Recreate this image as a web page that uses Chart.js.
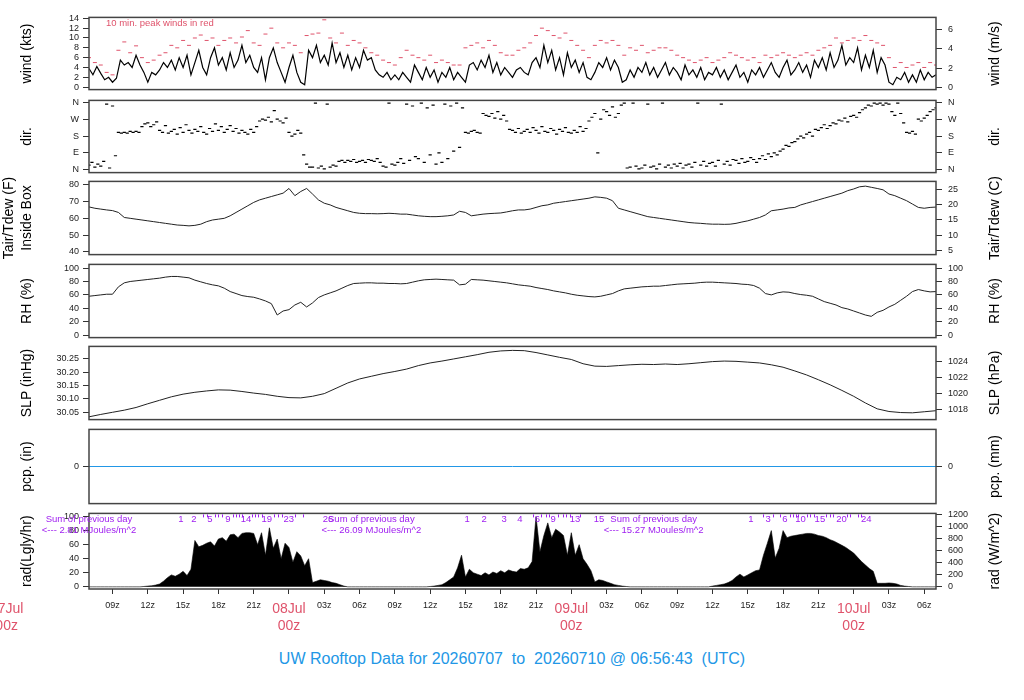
<!DOCTYPE html>
<html>
<head>
<meta charset="utf-8">
<title>UW Rooftop Data</title>
<script src="https://cdn.jsdelivr.net/npm/chart.js@4.4.1/dist/chart.umd.min.js"></script>
<style>
  body { margin: 0; background: #fff; width: 1024px; height: 700px; overflow: hidden; position: relative;
         font-family: "Liberation Sans", Arial, Helvetica, sans-serif; }
  canvas { position: absolute; left: 0; }
  #title { position: absolute; left: 0; top: 650px; width: 1024px; text-align: center; white-space: pre;
           color: #2297E6; font-size: 16px; line-height: 18px; }
</style>
</head>
<body>
<canvas id="cWind"></canvas>
<canvas id="cDir"></canvas>
<canvas id="cTemp"></canvas>
<canvas id="cRh"></canvas>
<canvas id="cSlp"></canvas>
<canvas id="cPcp"></canvas>
<canvas id="cRad"></canvas>
<div id="title">UW Rooftop Data for 20260707  to  20260710 @ 06:56:43  (UTC)</div>
<script>
// time axis: hours after 07Jul 00z
const dayLabels = ['07Jul', '08Jul', '09Jul', '10Jul'];
const xTickHours = [9, 12, 15, 18, 21, 24, 27, 30, 33, 36, 39, 42, 45, 48, 51, 54, 57, 60, 63, 66, 69, 72, 75, 78];

// wind speed (kts), every 20 min from 07z
const windKts = [
  3.8, 2.5, 4.2,  2.8, 1.5, 2.0,  1.0, 1.8, 5.5,  4.5, 5.0, 4.0,  6.5, 4.5, 3.0,  1.0, 3.0, 2.5,   // 07-12z
  3.5, 5.0, 4.0,  5.5, 3.5, 6.0,  4.0, 6.5, 2.5,  5.0, 7.5, 4.0,  2.5, 6.0, 8.0,  4.5, 6.0, 3.5,   // 13-18z
  7.0, 4.0, 5.5,  8.5, 5.0, 6.5,  4.0, 3.0, 6.0,  1.5, 6.0, 8.0,  5.0, 3.0, 1.0,  4.0, 6.5, 3.0,   // 19-00z
  1.0, 0.5, 7.5,  6.0, 8.5, 5.0,  6.5, 4.5, 9.0,  5.0, 7.0, 4.0,  6.5, 3.5, 6.0,  4.0, 7.5, 5.5,   // 01-06z
  6.0, 3.5, 2.5,  2.0, 3.0, 1.5,  2.5, 1.5, 3.0,  2.0, 1.0, 4.5,  3.0, 1.5, 4.0,  2.0, 3.5, 1.0,   // 07-12z
  3.0, 2.0, 4.0,  1.5, 3.0, 2.0,  1.0, 4.5, 5.0,  3.5, 5.5, 4.0,  6.5, 3.0, 5.0,  2.5, 4.0, 3.0,   // 13-18z
  2.0, 3.5, 4.0,  3.0, 2.5, 5.0,  6.0, 4.0, 8.5,  5.0, 7.5, 3.5,  6.0, 2.5, 7.0,  4.0, 5.5, 3.0,   // 19-00z
  5.0, 2.0, 1.5,  3.0, 5.0, 4.0,  6.0, 3.5, 5.5,  4.0, 1.0, 1.5,  3.5, 2.0, 4.0,  3.0, 5.0, 2.5,   // 01-06z
  4.0, 2.0, 3.5,  5.0, 2.5, 4.0,  3.0, 1.5, 4.5,  2.5, 3.5, 2.0,  4.0, 1.5, 3.0,  2.5, 4.0, 2.0,   // 07-12z
  3.5, 1.5, 3.0,  4.5, 2.0, 3.0,  1.0, 3.5, 2.5,  4.0, 2.0, 3.5,  5.0, 3.0, 2.0,  4.0, 5.5, 2.5,   // 13-18z
  3.5, 5.0, 3.0,  4.5, 2.0, 5.5,  4.0, 6.0, 3.5,  7.0, 4.0, 5.5,  8.5, 4.5, 6.0,  5.0, 8.0, 3.5,   // 19-00z
  6.5, 4.0, 7.5,  3.0, 6.0, 4.5,  1.0, 0.5, 2.0,  1.5, 3.0, 1.0,  2.5, 1.0, 3.5,  1.5, 3.0, 2.0,   // 01-06z
  2.5
];

// 10 min. peak winds (kts), every 30 min from 07z
const windPeakKts = [
  6.0, 5.0,  4.5, 3.0,  2.5, 7.5,  9.2, 7.0,  8.4, 6.0,  5.0, 5.5,
  6.5, 7.0,  8.5, 8.0,  9.5, 8.5,  10.0, 10.6,  9.5, 10.0,  8.5, 9.5,
  10.0, 9.0,  10.2, 11.5,  9.0, 8.5,  10.8, 12.0,  9.0, 8.0,  9.0, 8.5,
  7.0, 10.5,  10.8, 11.0,  13.7, 10.0,  9.0, 11.0,  8.5, 9.5,  9.0, 8.0,
  7.0, 6.5,  5.5, 5.0,  4.5, 6.0,  7.5, 6.5,  6.0, 5.5,  6.5, 5.0,
  5.5, 5.0,  4.5, 4.5,  8.0, 8.5,  9.0, 8.0,  9.5, 8.5,  7.0, 6.5,
  6.5, 7.5,  8.0, 9.0,  10.5, 12.0,  11.5, 10.5,  10.0, 11.0,  9.5, 8.5,
  7.5, 6.0,  8.5, 9.5,  9.0, 9.5,  8.5, 6.5,  8.0, 7.5,  8.5, 7.0,
  7.5, 8.0,  8.0, 7.5,  6.5, 6.0,  5.5, 5.0,  5.5, 6.0,  5.0, 5.5,
  6.0, 7.0,  6.5, 6.0,  5.5, 6.0,  5.0, 6.5,  6.0, 6.5,  7.0, 6.5,
  6.0, 6.5,  7.0, 6.5,  7.5, 8.0,  8.5, 10.0,  9.0, 9.5,  10.0, 9.5,
  10.5, 9.5,  9.0, 8.5,  6.0, 4.0,  5.0, 4.0,  4.5, 5.0,  4.0, 5.0,
  4.5
];

// wind direction (deg from N), every 15 min from 07z
const windDirDeg = [
  25, 40, 15, 30,    20, 45, 350, 10,   340, 75, 200, 195,  200, 195, 205, 200,  205, 200, 230, 245,  250, 230, 240, 255,
  210, 200, 235, 195, 205, 215, 190, 225, 200, 240, 210, 195, 215, 205, 230, 200, 190, 220, 205, 245, 210, 230, 200, 215,
  235, 205, 220, 195, 210, 200, 190, 215, 200, 230, 260, 270, 265, 280, 255, 315, 270, 260, 250, 275, 200, 180, 190, 210,
  195, 80, 30, 15,   15, 355, 10, 20,   5, 350, 15, 25,    20, 45, 50, 40,     50, 45, 55, 40,     45, 50, 40, 55,
  50, 45, 60, 40,    20, 15, 355, 30,   25, 40, 60, 35,    350, 50, 340, 70,   60, 355, 40, 330,   80, 345, 30, 90,
  40, 350, 60, 340,  100, 355, 120, 330, 200, 195, 205, 210, 200, 195, 300, 290, 285, 300, 275, 310, 270, 290, 260, 215,
  210, 200, 220, 195, 205, 215, 200, 225, 210, 195, 230, 205, 200, 220, 210, 190, 215, 205, 225, 200, 195, 210, 200, 230,
  205, 220, 260, 280, 300, 90, 270, 320, 310, 290, 335, 280, 300, 345, 355, 10, 15, 355, 20, 5,     10, 25, 350, 15,
  20, 5, 30, 355,    15, 25, 10, 30,    20, 35, 10, 25,    30, 15, 40, 355,    25, 45, 20, 35,     40, 20, 50, 350,
  30, 45, 25, 55,    50, 35, 60, 40,    45, 65, 55, 40,    60, 75, 55, 85,     70, 90, 80, 100,    110, 130, 125, 145,
  150, 165, 180, 170, 190, 200, 180, 215, 210, 225, 240, 220, 235, 250, 245, 265, 260, 275, 255, 285, 290, 280, 305, 320,
  330, 345, 340, 355, 350, 355, 345, 355, 350, 310, 290, 355, 300, 250, 200, 195, 205, 190, 270, 260, 275, 290, 310, 320,
  330
];

// air temperature inside box (F), every 30 min from 07z
const tempF = [
  66.8, 66.0, 65.5, 65.0, 64.6, 63.5, 60.5, 60.0, 59.5, 59.0, 58.5, 58.0,   // 07-12z
  57.5, 57.0, 56.5, 56.0, 55.8, 55.5, 55.8, 56.5, 58.0, 59.0, 59.5, 60.0,   // 13-18z
  61.5, 63.5, 65.5, 67.5, 69.5, 71.0, 72.0, 73.0, 74.0, 75.0, 77.8, 73.5,   // 19-00z
  76.0, 77.8, 74.5, 71.0, 69.0, 68.0, 66.5, 65.5, 64.5, 63.5, 63.0, 62.8,   // 01-06z
  62.8, 62.7, 62.8, 63.0, 62.8, 62.5, 62.5, 62.0, 61.5, 61.2, 61.0, 61.0,   // 07-12z
  61.2, 61.5, 62.0, 64.2, 63.5, 61.5, 62.0, 62.5, 62.8, 63.0, 63.2, 63.8,   // 13-18z
  64.5, 65.0, 65.0, 65.5, 66.5, 67.5, 68.0, 69.0, 69.5, 70.0, 70.5, 71.0,   // 19-00z
  71.5, 72.0, 72.8, 72.5, 72.0, 70.5, 66.0, 65.0, 64.0, 63.0, 62.0, 61.0,   // 01-06z
  60.5, 60.0, 59.5, 59.0, 58.5, 58.0, 57.5, 57.2, 57.0, 56.7, 56.5, 56.5,   // 07-12z
  56.4, 56.5, 57.0, 57.8, 58.5, 59.5, 60.5, 62.0, 64.5, 65.0, 65.5, 66.2,   // 13-18z
  66.5, 68.0, 69.0, 70.0, 71.0, 72.0, 73.0, 74.0, 75.0, 76.5, 77.5, 78.8,   // 19-00z
  79.2, 78.5, 77.8, 77.0, 74.5, 73.5, 72.0, 70.5, 68.5, 66.5, 66.0, 66.5,   // 01-06z
  66.7
];

// relative humidity (%), every 30 min from 07z
const rhPct = [
  58, 59, 60, 61, 61, 72, 78, 80, 81, 82, 83, 84,
  85, 86.5, 87.5, 87.5, 86.5, 85.5, 82, 79.5, 77, 75, 73.5, 70,
  65, 62, 59, 57.5, 56.5, 54, 51, 47, 30, 36, 38, 45,
  49, 42, 48, 56, 60, 63, 66, 70, 74, 77, 77.5, 78,
  78, 77.5, 77.5, 77, 77, 76.5, 77, 79, 81, 82.5, 83, 83.5,
  83, 82.5, 82, 75, 76, 83, 82.5, 82, 81, 80, 79, 78,
  76.5, 75, 74, 73, 71, 69.5, 68, 66, 64.5, 63, 61, 59.5,
  58.5, 57.5, 57, 58, 60, 62, 66, 69, 70, 71, 72, 72.5,
  73, 73, 74, 75, 76, 76.5, 77, 77.5, 78.5, 79, 79, 78.5,
  78, 77.5, 77, 76, 75.5, 74, 70, 62, 60, 63, 64.5, 64,
  62, 60.5, 59.5, 58, 54, 50, 47.5, 45, 41, 39, 36, 33,
  30, 28, 34, 37, 42, 46, 52, 58, 65, 68, 66, 64.5,
  65
];

// sea level pressure (inHg), hourly from 07z
const slpInHg = [
  30.033, 30.042, 30.050, 30.058, 30.068, 30.082,   // 07-12z
  30.095, 30.108, 30.118, 30.125, 30.130, 30.134,   // 13-18z
  30.133, 30.128, 30.122, 30.117, 30.110, 30.105,   // 19-00z
  30.104, 30.110, 30.120, 30.140, 30.160, 30.175,   // 01-06z
  30.185, 30.195, 30.203, 30.212, 30.225, 30.235,   // 07-12z
  30.242, 30.250, 30.258, 30.266, 30.275, 30.280,   // 13-18z
  30.282, 30.281, 30.274, 30.265, 30.256, 30.248,   // 19-00z
  30.232, 30.223, 30.222, 30.225, 30.228, 30.230,   // 01-06z
  30.229, 30.231, 30.229, 30.232, 30.236, 30.240,   // 07-12z
  30.242, 30.241, 30.238, 30.235, 30.228, 30.219,   // 13-18z
  30.205, 30.190, 30.172, 30.153, 30.132, 30.110,   // 19-00z
  30.085, 30.063, 30.053, 30.049, 30.048, 30.052,   // 01-06z
  30.056
];

// precipitation (in)
const pcpHours = [7, 79];
const pcpIn = [0, 0];

// solar radiation (Langley/hr), every 20 min from 07z
const radLy = [
  0, 0, 0,   0, 0, 0,   0, 0, 0,   0, 0, 0,   0, 0, 0.5,  1, 1.5, 2.5,         // 07-12z
  4, 8, 13,  17, 15, 18,  22, 16, 25,  66, 57, 59,  62, 64, 58,  68, 70, 65,   // 13-18z
  74, 75, 70,  76, 77, 77,  76, 60, 77,  45, 84, 55,  68, 40, 62,  56, 35, 50, // 19-00z
  44, 30, 40,  6, 8, 10,  9, 8, 6,  5, 3, 1,  0, 0, 0,  0, 0, 0,               // 01-06z
  0, 0, 0,   0, 0, 0,   0, 0, 0,   0, 0, 0,   0, 0, 0,   0.5, 1, 2,            // 07-12z
  3, 6, 10,  14, 27, 45,  14, 25, 20,  18, 16, 20,  17, 21, 19,  23, 20, 24,   // 13-18z
  22, 21, 26,  25, 27, 36,  100, 50, 73,  91, 70, 82,  78, 73, 45,  77, 45, 60, // 19-00z
  40, 32, 23,  7, 10, 9,  7, 5, 3,  2, 1, 0.5,  0, 0, 0,  0, 0, 0,             // 01-06z
  0, 0, 0,   0, 0, 0,   0, 0, 0,   0, 0, 0,   0, 0, 0,   1, 2, 3,              // 07-12z
  4, 6, 9,   14, 18, 14,  17, 20, 23,  24, 45, 62,  80, 41, 55,  80, 70, 72,   // 13-18z
  73, 74, 75,  76, 76, 75,  73, 72, 70,  67, 65, 62,  59, 56, 52,  48, 42, 36, // 19-00z
  31, 26, 22,  5, 5, 5,  5.5, 5, 4,  2, 1, 0.5,  0, 0, 0,  0, 0, 0,            // 01-06z
  0
];

// running daily radiation total (MJ/m^2) labels along the top of the rad panel
const radCumHours  = [14.82, 15.92, 17.28, 18.81, 20.34, 22.12, 23.99, 27.31,
                      39.14, 40.59, 42.29, 43.62, 45.12, 46.45, 48.32, 50.36,
                      63.27, 64.74, 66.16, 67.49, 69.13, 70.97, 73.07];
const radCumLabels = ['1', '2', '5', '9', '14', '19', '23', '26',
                      '1', '2', '3', '4', '6', '9', '13', '15',
                      '1', '3', '6', '10', '15', '20', '24'];
const radCumTickHours = [16.69, 17.03, 17.71, 17.96, 18.30, 19.23, 19.49, 19.74, 20.00, 20.85, 21.10, 21.36,
                         21.70, 22.72, 23.06, 23.40, 24.50, 25.18,
                         44.75, 45.40, 45.83, 46.08, 46.85, 47.27, 47.53, 47.87, 48.72,
                         64.29, 65.14, 65.71, 66.55, 66.84, 67.07, 67.29, 68.03, 68.31, 68.59,
                         69.66, 69.96, 70.24, 71.43, 71.72, 72.37, 72.65];
const radSumHours = [7, 31, 55];
const radSumMJ = ['2.81', '26.09', '15.27'];

// ---- layout / style ----
const PAD = 8;
const X_AXIS_H = 50;
const X_MIN = 7, X_MAX = 79;
const LEFT_W = 89, RIGHT_W = 88;
const RED = '#DF536B', BLUE = '#2297E6', PURPLE = '#A020F0';
const FONT = '"Liberation Sans", Arial, Helvetica, sans-serif';

Chart.defaults.font.family = FONT;
Chart.defaults.color = '#222';

function series(start, step, values) {
  return values.map((v, i) => ({ x: start + i * step, y: v }));
}

function vText(ctx, text, x, y) {
  ctx.save();
  ctx.translate(x, y);
  ctx.rotate(-Math.PI / 2);
  ctx.fillText(text, 0, 0);
  ctx.restore();
}

// frame round the plot area plus the rotated axis titles on both sides
const panelDecor = {
  id: 'panelDecor',
  afterDraw(chart, args, opts) {
    const { ctx, chartArea: a } = chart;
    ctx.save();
    ctx.strokeStyle = '#444';
    ctx.lineWidth = 1.5;
    ctx.strokeRect(a.left, a.top, a.right - a.left, a.bottom - a.top);
    ctx.fillStyle = '#000';
    ctx.font = '14px ' + FONT;
    ctx.textAlign = 'center';
    ctx.textBaseline = 'middle';
    const cy = (a.top + a.bottom) / 2;
    const left = opts.left || [];
    left.forEach((t, i) => vText(ctx, t, 27.5 - (left.length - 1 - i) * 18.5, cy));
    if (opts.right) vText(ctx, opts.right, 995, cy);
    ctx.restore();
  }
};

const windNote = {
  id: 'windNote',
  afterDraw(chart) {
    const { ctx, chartArea: a } = chart;
    ctx.save();
    ctx.fillStyle = RED;
    ctx.font = '9.5px ' + FONT;
    ctx.textAlign = 'left';
    ctx.textBaseline = 'middle';
    ctx.fillText('10 min. peak winds in red', a.left + 17, a.top + 6);
    ctx.restore();
  }
};

const radNotes = {
  id: 'radNotes',
  afterDraw(chart) {
    const { ctx, chartArea: a, scales: { x } } = chart;
    ctx.save();
    ctx.fillStyle = PURPLE;
    ctx.strokeStyle = PURPLE;
    ctx.lineWidth = 1;
    radCumTickHours.forEach(h => {
      const px = Math.round(x.getPixelForValue(h)) + 0.5;
      ctx.beginPath();
      ctx.moveTo(px, a.top + 1);
      ctx.lineTo(px, a.top + 4);
      ctx.stroke();
    });
    ctx.font = '9.5px ' + FONT;
    ctx.textAlign = 'center';
    ctx.textBaseline = 'middle';
    radCumHours.forEach((h, i) => ctx.fillText(radCumLabels[i], x.getPixelForValue(h), a.top + 5.5));
    radSumHours.forEach((h, i) => {
      const px = x.getPixelForValue(h);
      ctx.fillText('Sum of previous day', px, a.top + 5.5);
      ctx.fillText('<--- ' + radSumMJ[i] + ' MJoules/m^2', px, a.top + 16.5);
    });
    // 07Jul 00z lies left of the data range, it is cut by the page edge
    const px0 = x.getPixelForValue(0);
    ctx.fillStyle = RED;
    ctx.font = '14px ' + FONT;
    ctx.fillText(dayLabels[0], px0, a.bottom + 5 + 6 + 8.75);
    ctx.fillText('00z', px0, a.bottom + 5 + 6 + 8.75 + 17.5);
    ctx.restore();
  }
};

function yAxis(pos, min, max, tickVals, fmt) {
  return {
    type: 'linear', position: pos, min: min, max: max,
    afterFit: s => { s.width = pos === 'left' ? LEFT_W : RIGHT_W; },
    afterBuildTicks: s => { s.ticks = tickVals.map(v => ({ value: v })); },
    border: { display: false },
    grid: { drawOnChartArea: false, drawTicks: true, tickLength: 6, color: '#333', lineWidth: 1 },
    ticks: { autoSkip: false, padding: pos === 'left' ? 4 : 6, color: '#222', font: { size: 9 },
             callback: fmt || (v => v) }
  };
}

const hiddenX = { type: 'linear', min: X_MIN, max: X_MAX, display: false };

const timeAxis = {
  type: 'linear', position: 'bottom', min: X_MIN, max: X_MAX,
  afterFit: s => { s.height = X_AXIS_H; },
  afterBuildTicks: s => { s.ticks = xTickHours.map(v => ({ value: v })); },
  border: { display: false },
  grid: { drawOnChartArea: false, drawTicks: true, tickLength: 5, color: '#333' },
  ticks: {
    autoSkip: false, maxRotation: 0, padding: 6,
    callback: v => (v % 24 === 0) ? [dayLabels[v / 24], '00z'] : String(v % 24).padStart(2, '0') + 'z',
    color: c => (c.tick && c.tick.value % 24 === 0) ? RED : '#222',
    font: c => (c.tick && c.tick.value % 24 === 0) ? { size: 14, lineHeight: 1.25 } : { size: 9 }
  }
};

function makePanel(id, top, bottom, datasets, yLeft, yRight, decor, extraPlugins, xAxis) {
  const cv = document.getElementById(id);
  const h = PAD + (bottom - top) + (xAxis ? X_AXIS_H : PAD);
  cv.width = 1024;
  cv.height = h;
  cv.style.width = '1024px';
  cv.style.height = h + 'px';
  cv.style.top = (top - PAD) + 'px';
  return new Chart(cv, {
    type: 'line',
    data: { datasets: datasets },
    options: {
      responsive: false,
      animation: false,
      events: [],
      parsing: false,
      layout: { padding: { top: PAD, bottom: xAxis ? 0 : PAD, left: 0, right: 0 } },
      plugins: { legend: { display: false }, tooltip: { enabled: false }, panelDecor: decor },
      scales: { x: xAxis || hiddenX, y: yLeft, y2: yRight }
    },
    plugins: [panelDecor].concat(extraPlugins || [])
  });
}

const lineStyle = { borderColor: '#222', borderWidth: 1, pointRadius: 0, tension: 0, xAxisID: 'x', yAxisID: 'y' };
const KT_TO_MS = 0.514444;
const INHG_TO_HPA = 33.8639;
const LY_TO_WM2 = 11.63;

// wind speed
const windMin = -0.5, windMax = 14.19;
makePanel('cWind', 14, 93, [
  Object.assign({}, lineStyle, { data: series(7, 1 / 3, windKts), borderColor: '#000', borderWidth: 1.2 }),
  { data: series(7, 0.5, windPeakKts), showLine: false, pointStyle: 'line', pointRadius: 2,
    borderColor: RED, borderWidth: 1, xAxisID: 'x', yAxisID: 'y' }
], yAxis('left', windMin, windMax, [0, 2, 4, 6, 8, 10, 12, 14]),
   yAxis('right', windMin * KT_TO_MS, windMax * KT_TO_MS, [0, 2, 4, 6]),
   { left: ['wind (kts)'], right: 'wind (m/s)' }, [windNote]);

// wind direction
const compass = { 0: 'N', 90: 'E', 180: 'S', 270: 'W', 360: 'N' };
makePanel('cDir', 97, 176, [
  { data: series(7, 0.25, windDirDeg), showLine: false, pointStyle: 'line', pointRadius: 1.6,
    borderColor: '#000', borderWidth: 1.2, xAxisID: 'x', yAxisID: 'y' }
], yAxis('left', -14.6, 369.7, [0, 90, 180, 270, 360], v => compass[v]),
   yAxis('right', -14.6, 369.7, [0, 90, 180, 270, 360], v => compass[v]),
   { left: ['dir.'], right: 'dir.' });

// temperature
const tMin = 38.36, tMax = 82.02;
makePanel('cTemp', 178, 258, [
  Object.assign({}, lineStyle, { data: series(7, 0.5, tempF) })
], yAxis('left', tMin, tMax, [40, 50, 60, 70, 80]),
   yAxis('right', (tMin - 32) / 1.8, (tMax - 32) / 1.8, [5, 10, 15, 20, 25]),
   { left: ['Tair/Tdew (F)', 'Inside Box'], right: 'Tair/Tdew (C)' });

// relative humidity
makePanel('cRh', 261, 341, [
  Object.assign({}, lineStyle, { data: series(7, 0.5, rhPct) })
], yAxis('left', -3.7, 105.5, [0, 20, 40, 60, 80, 100]),
   yAxis('right', -3.7, 105.5, [0, 20, 40, 60, 80, 100]),
   { left: ['RH (%)'], right: 'RH (%)' });

// pressure
const pMin = 30.0226, pMax = 30.297;
makePanel('cSlp', 343, 423, [
  Object.assign({}, lineStyle, { data: series(7, 1, slpInHg) })
], yAxis('left', pMin, pMax, [30.05, 30.10, 30.15, 30.20, 30.25], v => v.toFixed(2)),
   yAxis('right', pMin * INHG_TO_HPA, pMax * INHG_TO_HPA, [1018, 1020, 1022, 1024]),
   { left: ['SLP (inHg)'], right: 'SLP (hPa)' });

// precipitation
makePanel('cPcp', 426, 507, [
  Object.assign({}, lineStyle, { data: pcpHours.map((h, i) => ({ x: h, y: pcpIn[i] })), borderColor: BLUE })
], yAxis('left', -1, 1, [0]),
   yAxis('right', -1, 1, [0]),
   { left: ['pcp. (in)'], right: 'pcp. (mm)' });

// solar radiation
const rMin = -3.1, rMax = 104.5;
makePanel('cRad', 510, 589, [
  Object.assign({}, lineStyle, { data: series(7, 1 / 3, radLy), borderColor: '#000', borderWidth: 0.6,
                                 fill: 'origin', backgroundColor: '#000' })
], yAxis('left', rMin, rMax, [0, 20, 40, 60, 80, 100]),
   yAxis('right', rMin * LY_TO_WM2, rMax * LY_TO_WM2, [0, 200, 400, 600, 800, 1000, 1200]),
   { left: ['rad(Lgly/hr)'], right: 'rad (W/m^2)' }, [radNotes], timeAxis);
</script>
</body>
</html>
